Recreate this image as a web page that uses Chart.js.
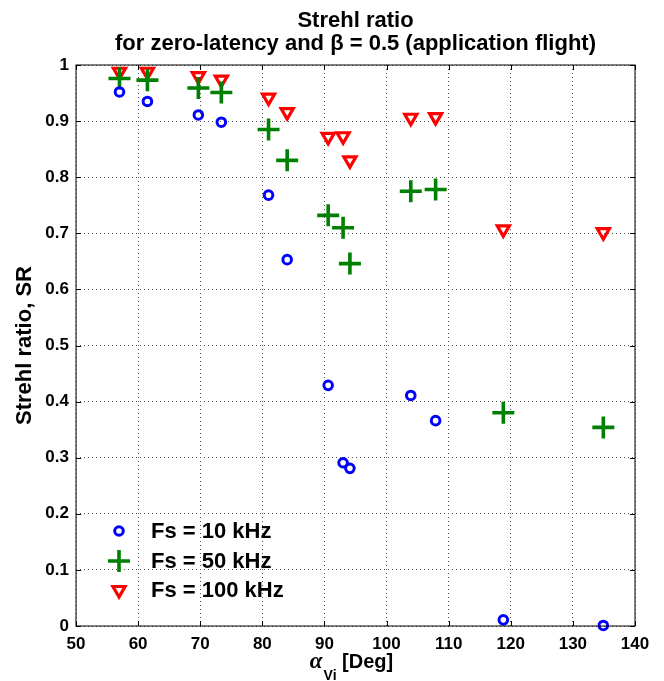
<!DOCTYPE html>
<html lang="en">
<head>
  <meta charset="UTF-8" />
  <title>Strehl ratio</title>
  <script src="https://cdn.jsdelivr.net/npm/chart.js"></script>
  <style>
    html, body { margin: 0; padding: 0; background: #fff; }
    #wrap { width: 664px; height: 681px; }
  </style>
</head>
<body>
  <div id="wrap"><canvas id="srChart" width="664" height="681"></canvas></div>

  <script>
    // angle alpha_Vi [deg], same for all three sample rates
    const angles = [57, 61.5, 69.7, 73.4, 81, 84, 90.6, 93, 94.1, 103.9, 107.9, 118.8, 134.9];
    const sr10k  = [0.952, 0.935, 0.911, 0.898, 0.768, 0.653, 0.429, 0.291, 0.281, 0.411, 0.366, 0.011, 0.001];
    const sr50k  = [0.976, 0.973, 0.959, 0.951, 0.885, 0.830, 0.732, 0.710, 0.646, 0.775, 0.778, 0.380, 0.354];
    const sr100k = [0.988, 0.988, 0.980, 0.974, 0.942, 0.916, 0.872, 0.873, 0.830, 0.906, 0.907, 0.707, 0.702];
    const seriesNames = ['Fs = 10 kHz', 'Fs = 50 kHz', 'Fs = 100 kHz'];
    const titleLines = ['Strehl ratio', 'for zero-latency and \u03B2 = 0.5 (application flight)'];

    const FONT = '"Liberation Sans", Arial, Helvetica, sans-serif';

    function toPoints(ys) {
      return angles.map((a, i) => ({ x: a, y: ys[i] }));
    }

    // title, axis labels, frame, inward ticks and legend
    const decorations = {
      id: 'decorations',
      afterDraw(chart) {
        const ctx = chart.ctx;
        const area = chart.chartArea;
        const xs = chart.scales.x, ys = chart.scales.y;
        const cx = (area.left + area.right) / 2;
        const cy = (area.top + area.bottom) / 2;
        ctx.save();

        // frame
        ctx.strokeStyle = '#000';
        ctx.lineWidth = 1;
        ctx.setLineDash([]);
        ctx.strokeRect(area.left, area.top, area.right - area.left, area.bottom - area.top);

        // inward ticks on all four sides
        const tl = 5;
        ctx.beginPath();
        xs.ticks.forEach(t => {
          const px = Math.round(xs.getPixelForValue(t.value)) + 0.5;
          ctx.moveTo(px, area.bottom); ctx.lineTo(px, area.bottom - tl);
          ctx.moveTo(px, area.top); ctx.lineTo(px, area.top + tl);
        });
        ys.ticks.forEach(t => {
          const py = Math.round(ys.getPixelForValue(t.value)) + 0.5;
          ctx.moveTo(area.left, py); ctx.lineTo(area.left + tl, py);
          ctx.moveTo(area.right, py); ctx.lineTo(area.right - tl, py);
        });
        ctx.stroke();

        // title
        ctx.fillStyle = '#000';
        ctx.textAlign = 'center';
        ctx.textBaseline = 'alphabetic';
        ctx.font = 'bold 22px ' + FONT;
        ctx.fillText(titleLines[0], cx, 27);
        ctx.fillText(titleLines[1], cx, 50);

        // y label
        ctx.save();
        ctx.translate(31, cy);
        ctx.rotate(-Math.PI / 2);
        ctx.font = 'bold 22px ' + FONT;
        ctx.fillText('Strehl ratio, SR', 0, 0);
        ctx.restore();

        // x label: alpha with subscript Vi
        const fA = 'bold italic 23px "Liberation Serif", "DejaVu Serif", serif';
        const fSub = 'bold 14px ' + FONT;
        const fMain = 'bold 20px ' + FONT;
        ctx.font = fA; const wA = ctx.measureText('\u03B1').width;
        ctx.font = fSub; const wS = ctx.measureText('Vi').width;
        ctx.font = fMain; const wM = ctx.measureText(' [Deg]').width;
        let x0 = cx - 4 - (wA + 1 + wS + wM) / 2;
        ctx.textAlign = 'left';
        ctx.font = fA; ctx.fillText('\u03B1', x0, 668);
        x0 += wA + 1;
        ctx.font = fSub; ctx.fillText('Vi', x0, 680);
        x0 += wS;
        ctx.font = fMain; ctx.fillText(' [Deg]', x0, 668);

        // legend
        const legX = area.left + 43, textX = area.left + 75;
        const rows = [531, 561, 590];
        chart.data.datasets.forEach((ds, i) => {
          ctx.strokeStyle = ds.borderColor;
          ctx.fillStyle = 'rgba(0,0,0,0)';
          ctx.lineWidth = ds.borderWidth;
          ctx.setLineDash([]);
          Chart.helpers.drawPoint(ctx, {
            pointStyle: ds.pointStyle,
            rotation: ds.rotation || 0,
            radius: ds.pointRadius,
            borderWidth: ds.borderWidth
          }, legX, rows[i]);
          ctx.fillStyle = '#000';
          ctx.font = 'bold 22px ' + FONT;
          ctx.textBaseline = 'middle';
          ctx.fillText(ds.label, textX, rows[i] + 1);
        });
        ctx.restore();
      }
    };

    const ctx = document.getElementById('srChart').getContext('2d');
    window.srChart = new Chart(ctx, {
      type: 'scatter',
      data: {
        datasets: [{
          label: seriesNames[0],
          data: toPoints(sr10k),
          pointStyle: 'circle',
          pointRadius: 4.3,
          borderWidth: 3,
          borderColor: '#0000ff',
          backgroundColor: 'rgba(0,0,0,0)',
          clip: false
        }, {
          label: seriesNames[1],
          data: toPoints(sr50k),
          pointStyle: 'cross',
          pointRadius: 11,
          borderWidth: 3.6,
          borderColor: '#008000',
          backgroundColor: '#008000',
          clip: false
        }, {
          label: seriesNames[2],
          data: toPoints(sr100k),
          pointStyle: 'triangle',
          rotation: 180,
          pointRadius: 7,
          borderWidth: 3.2,
          borderColor: '#ff0000',
          backgroundColor: 'rgba(0,0,0,0)',
          clip: false
        }]
      },
      options: {
        responsive: false,
        animation: false,
        layout: { padding: { top: 65, right: 29, bottom: 0, left: 0 } },
        plugins: {
          legend: { display: false },
          tooltip: { enabled: false }
        },
        elements: { point: { hoverRadius: 0 } },
        scales: {
          x: {
            type: 'linear',
            min: 50,
            max: 140,
            afterFit: s => { s.height = 55; },
            ticks: {
              stepSize: 10,
              padding: 8,
              color: '#000',
              font: { family: FONT, size: 17, weight: 'bold' }
            },
            grid: { color: '#555', lineWidth: 1, drawTicks: false },
            border: { display: false, dash: [1, 3] }
          },
          y: {
            type: 'linear',
            min: 0,
            max: 1,
            afterFit: s => { s.width = 76; },
            ticks: {
              stepSize: 0.1,
              padding: 7,
              color: '#000',
              font: { family: FONT, size: 17, weight: 'bold' },
              callback: v => String(Math.round(v * 10) / 10)
            },
            grid: { color: '#555', lineWidth: 1, drawTicks: false },
            border: { display: false, dash: [1, 3] }
          }
        }
      },
      plugins: [decorations]
    });
  </script>
</body>
</html>
